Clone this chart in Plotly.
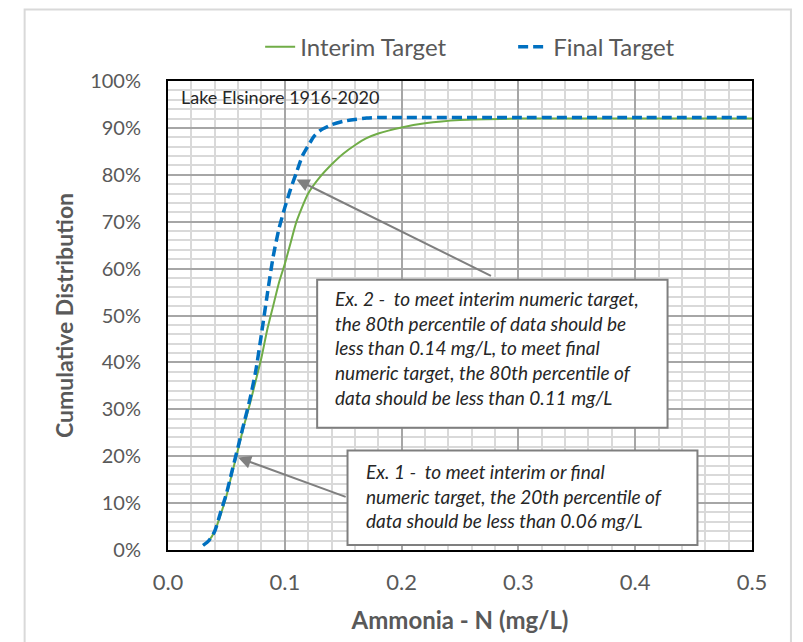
import plotly.graph_objects as go

# ---- data ----
final_x = [0.030, 0.035, 0.040, 0.045, 0.050, 0.055, 0.060, 0.065, 0.070, 0.075, 0.080, 0.085,
           0.090, 0.095, 0.100, 0.105, 0.110, 0.115, 0.120, 0.125, 0.130, 0.140, 0.150, 0.160,
           0.170, 0.180, 0.200, 0.300, 0.400, 0.500]
final_y = [0.010, 0.020, 0.040, 0.080, 0.120, 0.170, 0.220, 0.270, 0.320, 0.380, 0.460, 0.545,
           0.625, 0.685, 0.730, 0.770, 0.805, 0.840, 0.862, 0.882, 0.894, 0.907, 0.914, 0.918,
           0.921, 0.922, 0.922, 0.922, 0.922, 0.922]

interim_x = [0.030, 0.035, 0.040, 0.045, 0.050, 0.055, 0.060, 0.065, 0.070, 0.075, 0.080, 0.085,
             0.090, 0.095, 0.100, 0.105, 0.110, 0.120, 0.130, 0.140, 0.150, 0.160, 0.170, 0.180,
             0.200, 0.220, 0.250, 0.300, 0.400, 0.500]
interim_y = [0.010, 0.020, 0.040, 0.075, 0.115, 0.165, 0.215, 0.265, 0.310, 0.360, 0.410, 0.470,
             0.520, 0.570, 0.610, 0.655, 0.700, 0.760, 0.795, 0.822, 0.845, 0.863, 0.878, 0.888,
             0.901, 0.910, 0.917, 0.920, 0.920, 0.920]

x_ticks = [0.0, 0.1, 0.2, 0.3, 0.4, 0.5]
x_tick_labels = ["0.0", "0.1", "0.2", "0.3", "0.4", "0.5"]
y_ticks = [0.0, 0.1, 0.2, 0.3, 0.4, 0.5, 0.6, 0.7, 0.8, 0.9, 1.0]
y_tick_labels = ["0%", "10%", "20%", "30%", "40%", "50%", "60%", "70%", "80%", "90%", "100%"]

series_names = ["Interim Target", "Final Target"]
site_label = "Lake Elsinore 1916-2020"
ex2_text = ("<i>Ex. 2 -  to meet interim numeric target,<br>the 80th percentile of data should be<br>"
            "less than 0.14 mg/L, to meet final<br>numeric target, the 80th percentile of<br>"
            "data should be less than 0.11 mg/L</i>")
ex1_text = ("<i>Ex. 1 -  to meet interim or final<br>numeric target, the 20th percentile of<br>"
            "data should be less than 0.06 mg/L</i>")

FONT = "Lato"
GRAY = "#595959"

fig = go.Figure()
fig.add_trace(go.Scatter(x=interim_x, y=interim_y, mode="lines", name=series_names[0],
                         line=dict(color="#70ad47", width=2, shape="spline", smoothing=0.6)))
fig.add_trace(go.Scatter(x=final_x, y=final_y, mode="lines", name=series_names[1],
                         line=dict(color="#0070c0", width=3.5, dash="10px,5px", shape="spline", smoothing=0.6)))

fig.update_layout(
    width=795, height=634,
    margin=dict(l=159.5, r=51, t=73, b=89),
    paper_bgcolor="white", plot_bgcolor="white",
    font=dict(family=FONT, color=GRAY, size=20),
    showlegend=True,
    legend=dict(orientation="h", x=0.591, xanchor="center", y=1.072, yanchor="middle",
                font=dict(family=FONT, size=24, color=GRAY), itemwidth=30, entrywidth=208,
                bgcolor="rgba(0,0,0,0)"),
    xaxis=dict(range=[0, 0.5], tickvals=x_ticks, ticktext=x_tick_labels,
               showgrid=True, gridcolor="#a6a6a6", gridwidth=1.5,
               minor=dict(dtick=0.02, showgrid=True, gridcolor="#d9d9d9", gridwidth=2),
               showline=True, linecolor="black", linewidth=2, mirror=True,
               ticks="", zeroline=False, tickfont=dict(size=22, color=GRAY), ticklabelstandoff=12,
               title=dict(text="<b>Ammonia - N (mg/L)</b>", font=dict(size=24, color=GRAY), standoff=18)),
    yaxis=dict(range=[0, 1], tickvals=y_ticks, ticktext=y_tick_labels,
               showgrid=True, gridcolor="#a6a6a6", gridwidth=1.5,
               minor=dict(dtick=0.02, showgrid=True, gridcolor="#d9d9d9", gridwidth=2),
               showline=True, linecolor="black", linewidth=2, mirror=True,
               ticks="", zeroline=False, tickfont=dict(size=20, color=GRAY), ticklabelstandoff=21,
               title=dict(text="<b>Cumulative Distribution</b>", font=dict(size=23, color=GRAY), standoff=10)),
)

# outer chart border
fig.add_shape(type="rect", xref="paper", yref="paper", x0=-0.2455, x1=1.0667, y0=-0.3, y1=1.1525,
              line=dict(color="#d9d9d9", width=2), layer="above")

fig.add_annotation(text=site_label, xref="paper", yref="paper", x=0.018, y=0.993,
                   xanchor="left", yanchor="top", showarrow=False,
                   font=dict(family=FONT, size=18, color="#262626"))

# arrows
fig.add_annotation(x=0.110, y=0.79, ax=0.2778, ay=0.583, xref="x", yref="y", axref="x", ayref="y",
                   text="", showarrow=True, arrowhead=2, arrowsize=1.3, arrowwidth=2, arrowcolor="#7f7f7f")
fig.add_annotation(x=0.060, y=0.197, ax=0.1534, ay=0.112, xref="x", yref="y", axref="x", ayref="y",
                   text="", showarrow=True, arrowhead=2, arrowsize=1.3, arrowwidth=2, arrowcolor="#7f7f7f")

# text boxes
fig.add_shape(type="rect", xref="x", yref="y", x0=0.1277, x1=0.4277, y0=0.2606, y1=0.5763,
              fillcolor="white", line=dict(color="#7f7f7f", width=2), layer="above")
fig.add_shape(type="rect", xref="x", yref="y", x0=0.1537, x1=0.4533, y0=0.0106, y1=0.2119,
              fillcolor="white", line=dict(color="#7f7f7f", width=2), layer="above")
fig.add_annotation(text=ex2_text, xref="x", yref="y", x=0.1415, y=0.430, xanchor="left", yanchor="middle",
                   showarrow=False, align="left",
                   font=dict(family=FONT, size=19, color="#262626"))
fig.add_annotation(text=ex1_text, xref="x", yref="y", x=0.168, y=0.1144, xanchor="left", yanchor="middle",
                   showarrow=False, align="left",
                   font=dict(family=FONT, size=19, color="#262626"))

fig.write_html("out.html")
